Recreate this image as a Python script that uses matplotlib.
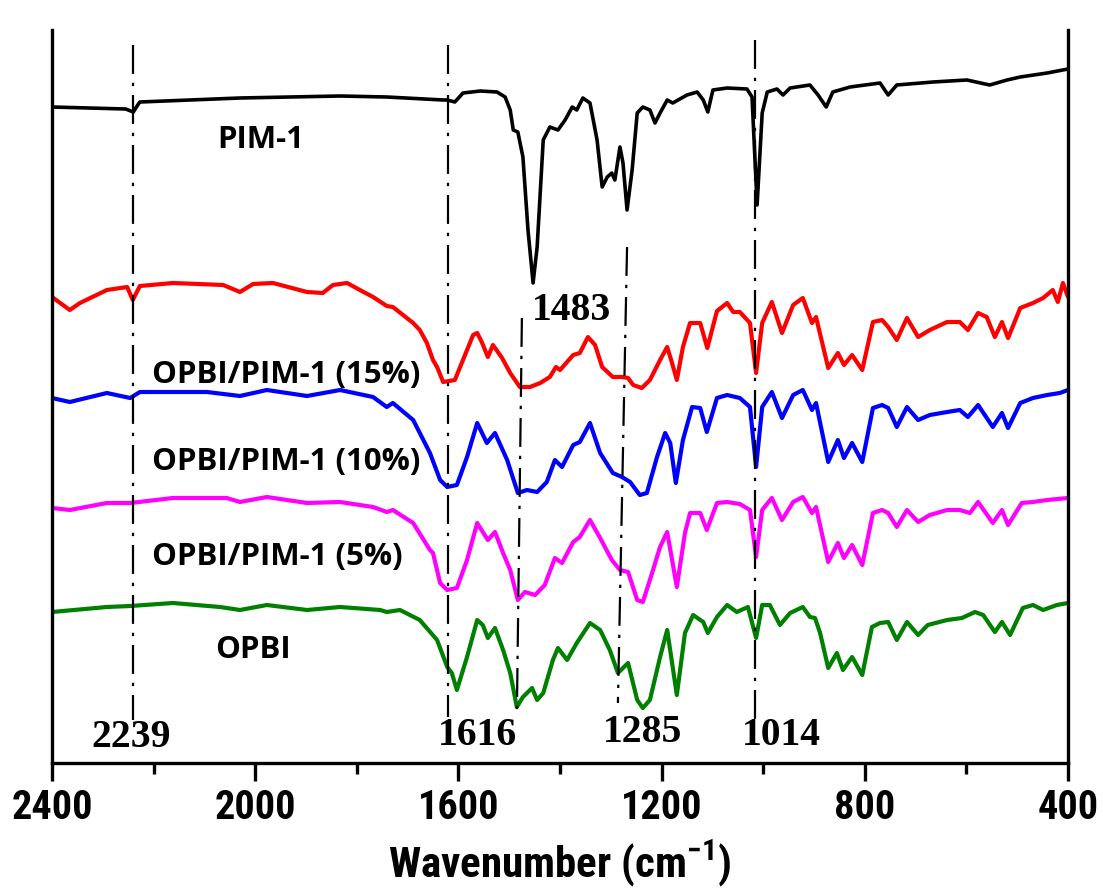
import matplotlib
matplotlib.use("Agg")
import matplotlib.pyplot as plt
from matplotlib import font_manager
from matplotlib.ticker import MultipleLocator

# FTIR spectra, transmittance in arbitrary units (offset stacked)
pim1_wn = [2400, 2255, 2240, 2230, 2227, 2030, 1833, 1741, 1630, 1622, 1607, 1591, 1557, 1524,
           1508, 1498, 1492, 1483, 1473, 1463, 1453, 1445, 1433, 1420, 1404, 1390, 1376, 1367,
           1355, 1341, 1327, 1317, 1307, 1298, 1292, 1282, 1276, 1268, 1258, 1248, 1237, 1223,
           1213, 1203, 1189, 1178, 1150, 1130, 1118, 1109, 1099, 1071, 1032, 1022, 1012, 1002,
           992, 973, 961, 947, 908, 892, 876, 863, 829, 770, 754, 737, 666, 599, 554, 520, 494,
           441, 400]
pim1_t = [656, 654, 651, 659, 661, 665, 667, 666, 663, 663, 661, 670, 672, 671,
          666, 653, 633, 631, 606, 533, 480, 516, 623, 636, 633, 643, 656, 653,
          665, 660, 623, 576, 586, 590, 583, 616, 600, 553, 593, 650, 656, 653,
          640, 650, 663, 660, 668, 671, 663, 651, 673, 675, 674, 666, 558, 650,
          671, 674, 668, 675, 678, 668, 656, 671, 676, 680, 668, 678, 681, 683, 678, 683, 686,
          690, 694]

opbi15_wn = [2400, 2365, 2345, 2292, 2252, 2241, 2227, 2162, 2063, 2030, 2004, 1965, 1898, 1867,
             1847, 1819, 1794, 1768, 1741, 1729, 1689, 1676, 1662, 1650, 1642, 1630, 1607, 1591,
             1571, 1563, 1554, 1542, 1532, 1514, 1498, 1479, 1459, 1439, 1420, 1408, 1400, 1374,
             1361, 1345, 1331, 1317, 1296, 1278, 1266, 1256, 1239, 1223, 1203, 1189, 1180, 1170,
             1158, 1144, 1124, 1110, 1091, 1071, 1059, 1046, 1026, 1014, 1002, 983, 963, 941,
             922, 904, 896, 872, 853, 841, 825, 805, 784, 766, 754, 737, 717, 695, 672, 638, 613,
             597, 577, 560, 544, 530, 518, 494, 469, 449, 430, 420, 410, 400]
opbi15_t = [466, 453, 460, 473, 476, 463, 477, 480, 478, 471, 479, 480, 471, 470,
            478, 480, 473, 466, 457, 456, 440, 433, 420, 403, 396, 381, 383, 403,
            428, 430, 421, 406, 418, 405, 390, 376, 376, 380, 386, 396, 393, 408,
            410, 426, 418, 396, 386, 386, 385, 378, 375, 383, 403, 416, 401, 383,
            416, 440, 440, 415, 452, 460, 451, 451, 440, 390, 440, 461, 430, 458,
            465, 440, 446, 395, 410, 398, 408, 393, 441, 443, 436, 423, 445, 426, 433, 441, 441,
            433, 450, 446, 426, 441, 425, 455, 460, 465, 473, 461, 480, 466]

opbi10_wn = [2400, 2365, 2292, 2246, 2227, 2095, 2030, 1977, 1898, 1833, 1768, 1741, 1729, 1689,
             1656, 1636, 1622, 1603, 1583, 1563, 1544, 1528, 1504, 1483, 1465, 1445, 1426, 1410,
             1396, 1374, 1361, 1341, 1321, 1296, 1278, 1262, 1243, 1229, 1209, 1193, 1183, 1172,
             1158, 1140, 1124, 1111, 1091, 1071, 1046, 1026, 1014, 1002, 983, 963, 941, 922, 904,
             896, 872, 853, 841, 825, 805, 784, 766, 754, 737, 717, 695, 672, 638, 613, 597, 577,
             548, 530, 518, 494, 469, 441, 416, 400]
opbi10_t = [365, 361, 370, 365, 371, 371, 367, 373, 367, 373, 366, 356, 360, 343,
            310, 283, 276, 278, 306, 340, 320, 330, 303, 270, 273, 271, 281, 303,
            296, 318, 321, 340, 310, 290, 286, 281, 268, 270, 306, 330, 320, 280,
            323, 356, 355, 331, 365, 368, 365, 356, 296, 356, 371, 345, 368, 373, 353,
            360, 301, 323, 305, 320, 301, 355, 358, 355, 336, 356, 343, 348, 351, 353, 346, 358,
            336, 350, 335, 360, 365, 368, 370, 373]

opbi5_wn = [2400, 2365, 2292, 2246, 2162, 2056, 2030, 1977, 1898, 1833, 1768, 1741, 1729, 1689,
            1656, 1650, 1636, 1622, 1603, 1583, 1563, 1552, 1542, 1528, 1512, 1498, 1483, 1469,
            1449, 1430, 1410, 1396, 1374, 1361, 1341, 1321, 1298, 1282, 1266, 1248, 1237, 1223,
            1203, 1189, 1170, 1154, 1144, 1124, 1111, 1091, 1071, 1046, 1026, 1014, 1002, 983,
            963, 941, 922, 904, 896, 872, 853, 841, 825, 805, 784, 766, 754, 737, 717, 695, 672,
            638, 613, 593, 577, 548, 530, 518, 491, 469, 441, 400]
opbi5_t = [255, 253, 260, 260, 265, 265, 261, 266, 260, 261, 256, 251, 253, 240,
           213, 210, 180, 173, 175, 203, 240, 231, 223, 231, 210, 193, 163, 171,
           168, 178, 205, 200, 221, 226, 243, 225, 203, 193, 191, 163, 161, 183,
           216, 231, 176, 230, 250, 250, 233, 260, 261, 259, 253, 206, 253, 265,
           243, 261, 266, 250, 256, 201, 220, 205, 218, 198, 250, 253, 250, 236, 253, 241, 248,
           253, 253, 250, 261, 240, 253, 238, 260, 261, 263, 265]

opbi_wn = [2400, 2292, 2246, 2162, 2069, 2030, 1977, 1898, 1833, 1754, 1741, 1715, 1676, 1642,
           1622, 1613, 1603, 1583, 1563, 1552, 1542, 1528, 1512, 1498, 1485, 1473, 1455, 1445,
           1433, 1414, 1404, 1386, 1367, 1341, 1321, 1302, 1286, 1266, 1248, 1237, 1223, 1203,
           1189, 1170, 1154, 1138, 1118, 1109, 1091, 1071, 1052, 1030, 1014, 1002, 987, 967, 947,
           922, 908, 898, 888, 872, 855, 843, 825, 805, 786, 770, 754, 737, 717, 695, 676, 638,
           609, 583, 567, 544, 530, 514, 489, 469, 449, 422, 400]
opbi_t = [151, 156, 157, 160, 156, 153, 158, 153, 156, 153, 151, 153, 143, 123,
          96, 90, 73, 106, 143, 138, 125, 135, 113, 90, 56, 66, 75, 63,
          70, 103, 115, 103, 120, 140, 133, 113, 90, 100, 63, 55, 63, 106,
          133, 68, 130, 148, 141, 130, 146, 158, 151, 156, 125, 158, 158, 138, 150,
          156, 146, 145, 130, 95, 110, 93, 106, 88, 136, 140, 141, 123, 141, 128, 138, 143,
          145, 151, 148, 131, 141, 128, 155, 158, 153, 158, 160]

series = [
    (pim1_wn, pim1_t, "black", 2.6),
    (opbi15_wn, opbi15_t, "#ff0000", 3.0),
    (opbi10_wn, opbi10_t, "#0000ff", 3.0),
    (opbi5_wn, opbi5_t, "#ff00ff", 3.0),
    (opbi_wn, opbi_t, "#008000", 3.0),
]

# sample names: (text, wavenumber, level, alignment)
names = [
    ("PIM-1", 1990, 615, "center"),
    ("OPBI/PIM-1 (15%)", 2203, 380, "left"),
    ("OPBI/PIM-1 (10%)", 2203, 293, "left"),
    ("OPBI/PIM-1 (5%)", 2203, 198, "left"),
    ("OPBI", 2004, 105, "center"),
]

# marked bands: (label, line top wn, line bottom wn, y top, y bottom, label wn, label y)
bands = [
    ("2239", 2241, 2241, 718, 43, 2244, 16),
    ("1616", 1620, 1620, 718, 46, 1563, 18),
    ("1483", 1475, 1485, 445, 46, 1378, 443),
    ("1285", 1268, 1286, 516, 60, 1237, 21),
    ("1014", 1016, 1016, 723, 43, 965, 18),
]

avail = {f.name for f in font_manager.fontManager.ttflist}
tick_font, tick_size = "Roboto", 25
for cand in ["Liberation Sans Narrow", "Roboto Condensed", "Open Sans Condensed"]:
    if cand in avail:
        tick_font, tick_size = cand, 29
        break

plt.rcParams["mathtext.fontset"] = "custom"
plt.rcParams["mathtext.rm"] = tick_font
plt.rcParams["mathtext.bf"] = tick_font + ":bold"

fig = plt.figure(figsize=(11.03, 8.93), dpi=100)
ax = fig.add_axes([52 / 1103, 130 / 893, 1016 / 1103, 733 / 893])

for wn, t, c, w in series:
    ax.plot(wn, t, color=c, lw=w, solid_joinstyle="round", solid_capstyle="round", zorder=2)

for lab, w0, w1, y0, y1, lw_, ly in bands:
    ax.plot([w0, w1], [y0, y1], color="black", lw=1.6,
            linestyle=(0, (13, 4, 1.5, 4)), zorder=3)
    ax.text(lw_, ly, lab, ha="center", va="baseline", fontsize=28.5,
            fontweight="bold", family="Liberation Serif")

for txt, w, y, ha in names:
    ax.text(w, y, txt, ha=ha, va="baseline", fontsize=22.5, fontweight="bold",
            family="Open Sans")

ax.set_xlim(2400, 400)
ax.set_ylim(0, 733)
ax.xaxis.set_major_locator(MultipleLocator(400))
ax.xaxis.set_minor_locator(MultipleLocator(200))
ax.set_yticks([])
ax.spines["top"].set_visible(False)
for s in ["left", "right", "bottom"]:
    ax.spines[s].set_linewidth(2.4)
ax.tick_params(axis="x", which="major", direction="out", length=13, width=2.4, pad=6)
ax.tick_params(axis="x", which="minor", direction="out", length=8, width=2.4)
for lbl in ax.get_xticklabels():
    lbl.set_fontsize(tick_size)
    lbl.set_fontweight("bold")
    lbl.set_family(tick_font)
ax.set_xlabel("Wavenumber (cm$^{\\mathbf{-1}}$)", fontsize=tick_size + 2, fontweight="bold",
              family=tick_font, labelpad=8)

fig.savefig("out.png", dpi=100)
